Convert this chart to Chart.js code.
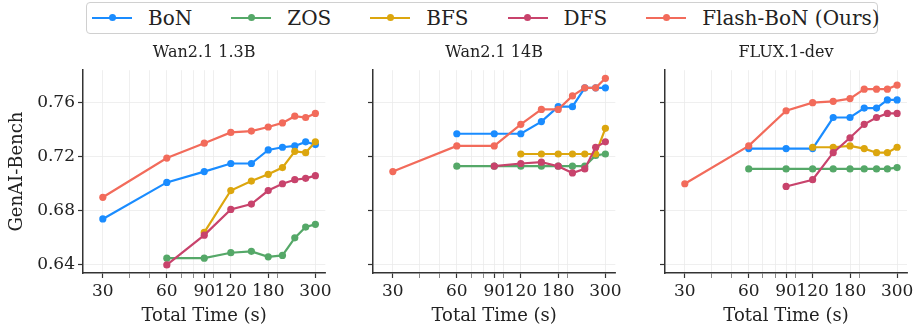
<!DOCTYPE html>
<html>
<head>
<meta charset="utf-8">
<script src="https://cdn.jsdelivr.net/npm/chart.js@4.4.1/dist/chart.umd.min.js"></script>
<style>
  body { margin: 0; width: 914px; height: 328px; background: #fff; position: relative; overflow: hidden; font-family: "DejaVu Serif", serif; }
  canvas { position: absolute; top: 36px; }
  #legend { position: absolute; left: 86px; top: 2px; width: 792px; height: 32px; border: 1px solid #d0d0d0; border-radius: 4px;
            display: flex; align-items: center; padding-left: 5px; box-sizing: border-box; white-space: nowrap; }
  .item { display: flex; align-items: center; margin-right: 39px; flex: none; }
  .item:last-child { margin-right: 0; }
  .handle { position: relative; width: 40px; height: 2.2px; margin-right: 16px; }
  .handle span { position: absolute; left: 16.5px; top: -2.9px; width: 7px; height: 7px; border-radius: 50%; }
  .label { font-size: 20px; color: #222; line-height: 1; white-space: nowrap; }
</style>
</head>
<body>
<div id="legend"></div>
<canvas id="c1" width="335" height="292" style="left:0px"></canvas>
<canvas id="c2" width="290" height="292" style="left:335px"></canvas>
<canvas id="c3" width="302" height="292" style="left:625px"></canvas>
<script>
const times = [30, 60, 90, 120, 150, 180, 210, 240, 270, 300];
const methods = ['BoN', 'ZOS', 'BFS', 'DFS', 'Flash-BoN (Ours)'];
const colors = ['#1a8cff', '#55a868', '#dca60e', '#c8436c', '#f26b5b'];
const xTickLabels = [30, 60, 90, 120, 180, 300];
const xGridValues = [30, 40, 50, 60, 70, 80, 90, 100, 120, 180, 200, 300];
const yTickValues = [0.64, 0.68, 0.72, 0.76];

// Wan2.1 1.3B
const wan13_bon   = [0.674, 0.701, 0.709, 0.715, 0.715, 0.725, 0.727, 0.728, 0.731, 0.729];
const wan13_zos   = [null, 0.645, 0.645, 0.649, 0.650, 0.646, 0.647, 0.660, 0.668, 0.670];
const wan13_bfs   = [null, null, 0.664, 0.695, 0.702, 0.707, 0.712, 0.724, 0.723, 0.731];
const wan13_dfs   = [null, 0.640, 0.662, 0.681, 0.685, 0.695, 0.700, 0.703, 0.704, 0.706];
const wan13_flash = [0.690, 0.719, 0.730, 0.738, 0.739, 0.742, 0.745, 0.750, 0.749, 0.752];

// Wan2.1 14B
const wan14_bon   = [null, 0.737, 0.737, 0.737, 0.746, 0.757, 0.757, 0.771, 0.771, 0.771];
const wan14_zos   = [null, 0.713, 0.713, 0.713, 0.713, 0.713, 0.713, 0.713, 0.721, 0.722];
const wan14_bfs   = [null, null, null, 0.722, 0.722, 0.722, 0.722, 0.722, 0.722, 0.741];
const wan14_dfs   = [null, null, 0.713, 0.715, 0.716, 0.713, 0.708, 0.711, 0.727, 0.731];
const wan14_flash = [0.709, 0.728, 0.728, 0.744, 0.755, 0.755, 0.765, 0.771, 0.771, 0.778];

// FLUX.1-dev
const flux_bon   = [null, 0.726, 0.726, 0.726, 0.749, 0.749, 0.756, 0.756, 0.762, 0.762];
const flux_zos   = [null, 0.711, 0.711, 0.711, 0.711, 0.711, 0.711, 0.711, 0.711, 0.712];
const flux_bfs   = [null, null, null, 0.727, 0.727, 0.728, 0.726, 0.723, 0.723, 0.727];
const flux_dfs   = [null, null, 0.698, 0.703, 0.723, 0.734, 0.744, 0.749, 0.752, 0.752];
const flux_flash = [0.700, 0.728, 0.754, 0.760, 0.761, 0.763, 0.770, 0.770, 0.770, 0.773];

const FONT = 'DejaVu Serif';
const TEXT = '#222';

function makePanel(id, title, series, yWidth, padRight, showY) {
  const datasets = series.map((vals, i) => ({
    label: methods[i],
    data: vals.map((v, k) => ({ x: times[k], y: v })),
    borderColor: colors[i],
    backgroundColor: colors[i],
    borderWidth: 2.2,
    pointRadius: 3.6,
    pointBorderWidth: 0,
    pointHoverRadius: 3.6,
    tension: 0,
    order: methods.length - 1 - i
  }));
  return new Chart(document.getElementById(id), {
    type: 'line',
    data: { datasets },
    options: {
      responsive: false,
      animation: false,
      devicePixelRatio: 1,
      layout: { padding: { left: 0, right: padRight, top: 0, bottom: 0 } },
      plugins: {
        legend: { display: false },
        tooltip: { enabled: false },
        title: {
          display: true, text: title, fullSize: false, color: TEXT,
          font: { family: FONT, size: 16, weight: 'normal' },
          padding: { top: 7, bottom: 8 }
        }
      },
      scales: {
        x: {
          type: 'logarithmic',
          min: 24.2, max: 334,
          afterBuildTicks: s => { s.ticks = xGridValues.map(v => ({ value: v })); },
          afterFit: s => { s.height = 55; },
          ticks: {
            autoSkip: false, maxRotation: 0, minRotation: 0, padding: 3, color: TEXT,
            font: { family: FONT, size: 17 },
            callback: v => xTickLabels.includes(v) ? String(v) : ''
          },
          grid: {
            color: '#ebebeb', lineWidth: 0.8, tickLength: 5,
            tickColor: c => xTickLabels.includes(c.tick && c.tick.value) ? '#333' : '#555',
            tickWidth: c => xTickLabels.includes(c.tick && c.tick.value) ? 1.2 : 0.7
          },
          border: { color: '#333', width: 1.5 },
          title: {
            display: true, text: 'Total Time (s)', color: TEXT,
            font: { family: FONT, size: 18 }, padding: { top: 0, bottom: 1 }
          }
        },
        y: {
          min: 0.634, max: 0.784,
          afterBuildTicks: s => { s.ticks = yTickValues.map(v => ({ value: v })); },
          afterFit: s => { s.width = yWidth; },
          ticks: {
            display: showY, padding: 3, color: TEXT,
            font: { family: FONT, size: 17 },
            callback: v => Number(v).toFixed(2)
          },
          grid: { color: '#ebebeb', lineWidth: 0.8, tickLength: 5, tickColor: '#333', tickWidth: 1.2 },
          border: { color: '#333', width: 1.5 },
          title: {
            display: showY, text: 'GenAI-Bench', color: TEXT,
            font: { family: FONT, size: 18 }, padding: { top: 7, bottom: 0 }
          }
        }
      }
    }
  });
}

makePanel('c1', 'Wan2.1 1.3B', [wan13_bon, wan13_zos, wan13_bfs, wan13_dfs, wan13_flash], 83, 8, true);
makePanel('c2', 'Wan2.1 14B', [wan14_bon, wan14_zos, wan14_bfs, wan14_dfs, wan14_flash], 38, 8, false);
makePanel('c3', 'FLUX.1-dev', [flux_bon, flux_zos, flux_bfs, flux_dfs, flux_flash], 40, 20, false);

const legend = document.getElementById('legend');
methods.forEach((m, i) => {
  const item = document.createElement('div');
  item.className = 'item';
  item.innerHTML = '<div class="handle" style="background:' + colors[i] + '"><span style="background:' + colors[i] + '"></span></div>' +
                   '<div class="label">' + m + '</div>';
  legend.appendChild(item);
});
</script>
</body>
</html>
